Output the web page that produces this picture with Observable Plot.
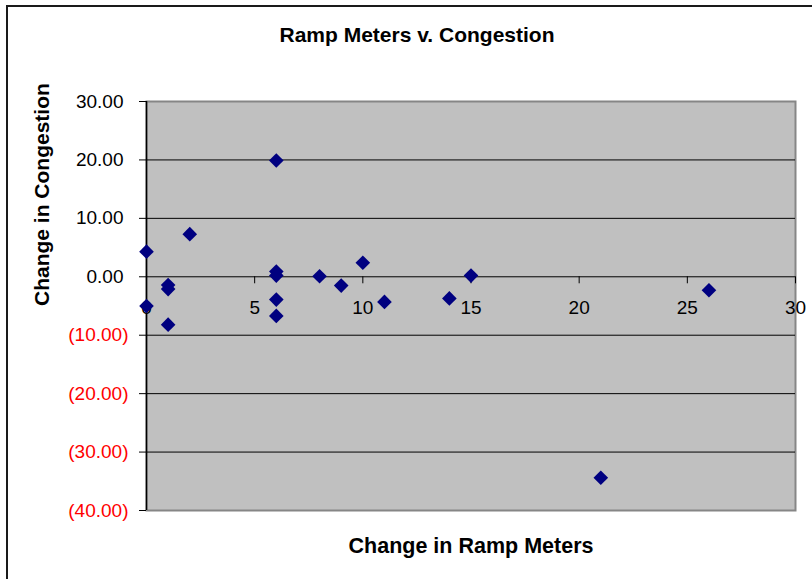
<!DOCTYPE html>
<html>
<head>
<meta charset="utf-8">
<script src="https://cdn.jsdelivr.net/npm/d3@7"></script>
<script src="https://cdn.jsdelivr.net/npm/@observablehq/plot@0.6"></script>
<style>
  html, body { margin: 0; padding: 0; background: #fff; overflow: hidden; }
  #chart { position: relative; width: 812px; height: 579px; }
  #border { position: absolute; left: 6px; top: 5px; width: 900px; height: 900px;
            border-left: 2px solid #1a1a1a; border-top: 2px solid #1a1a1a; pointer-events: none; }
</style>
</head>
<body>
<div id="chart"><div id="border"></div></div>
<script>
// Change in ramp meters (x) against change in congestion (y)
const meters     = [0, 0, 1, 1, 1, 2, 6, 6, 6, 6, 6, 8, 9, 10, 11, 14, 15, 21, 26];
const congestion = [4.3, -5.0, -1.4, -2.1, -8.2, 7.3, 19.9, 0.9, 0.2, -3.9, -6.7, 0.1, -1.5, 2.4, -4.3, -3.7, 0.2, -34.4, -2.3];

const xTicks = [0, 5, 10, 15, 20, 25, 30];
const yTicksNonNeg = [0, 10, 20, 30];
const yTicksNeg = [-40, -30, -20, -10];
const gridValues = [-30, -20, -10, 0, 10, 20];

const titleText = "Ramp Meters v. Congestion";
const xTitle = "Change in Ramp Meters";
const yTitle = "Change in Congestion";

const points = meters.map((m, i) => ({meters: m, congestion: congestion[i]}));

const W = 812, H = 579;
const margin = {top: 101, right: 17, bottom: 69, left: 146};
const yDomain = [-40, 30];
const xDomain = [0, 30];

// y scale used to place the x axis on the zero line
const yScale = Plot.scale({y: {domain: yDomain, range: [H - margin.bottom, margin.top]}});
const zeroOffset = yScale.apply(0) - (H - margin.bottom);

// accounting-style labels: negatives in parentheses, positives padded for the ")"
const fmtY = d => d < 0 ? `(${(-d).toFixed(2)})` : d.toFixed(2);
const font = "Arial, 'Liberation Sans', sans-serif";

const chart = Plot.plot({
  width: W,
  height: H,
  marginTop: margin.top,
  marginRight: margin.right,
  marginBottom: margin.bottom,
  marginLeft: margin.left,
  style: {fontFamily: font, fontSize: "19px", background: "transparent", color: "#000", overflow: "visible"},
  x: {domain: xDomain},
  y: {domain: yDomain},
  marks: [
    Plot.frame({fill: "#c0c0c0", stroke: "#868686", strokeWidth: 2}),
    Plot.gridY(gridValues, {stroke: "#000", strokeOpacity: 1, strokeWidth: 1}),
    Plot.ruleX([0], {stroke: "#000", strokeWidth: 1.5}),
    Plot.axisY(yTicksNonNeg, {anchor: "left", label: null, tickSize: 7, tickPadding: 16, tickFormat: fmtY, fill: "#000", stroke: "#000", fontSize: 19}),
    Plot.axisY(yTicksNeg, {anchor: "left", label: null, tickSize: 7, tickPadding: 11, tickFormat: fmtY, fill: "#ff0000", stroke: "#000", fontSize: 19}),
    Plot.axisX(xTicks, {anchor: "bottom", label: null, dy: zeroOffset, tickSize: 7, tickPadding: 17, tickFormat: d => String(d), fill: "#000", stroke: "#000", fontSize: 19}),
    Plot.dot(points, {x: "meters", y: "congestion", symbol: "diamond2", r: 6.6, fill: "#000080", stroke: "none"}),
    Plot.text([titleText], {frameAnchor: "top", lineAnchor: "middle", dy: -66, dx: -54, fontWeight: "bold", fontSize: 21, fill: "#000"}),
    Plot.text([xTitle], {frameAnchor: "bottom", lineAnchor: "middle", dy: 36, fontWeight: "bold", fontSize: 21.5, fill: "#000"}),
    Plot.text([yTitle], {frameAnchor: "left", dx: -104, rotate: -90, fontWeight: "bold", fontSize: 21, fill: "#000"})
  ]
});

document.getElementById("chart").prepend(chart);
</script>
</body>
</html>
